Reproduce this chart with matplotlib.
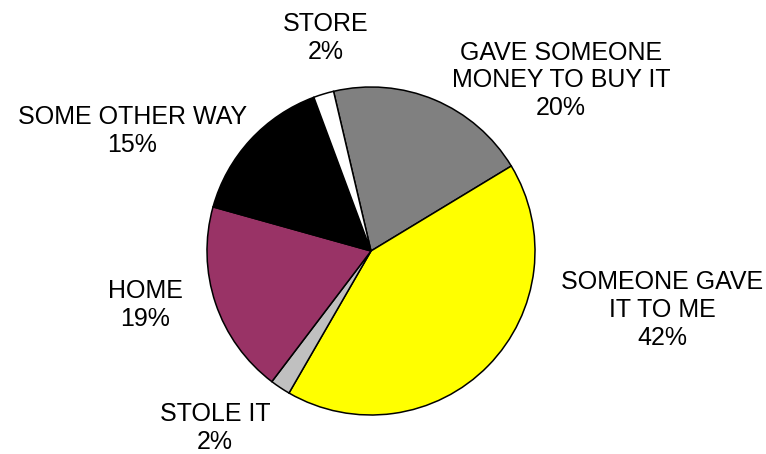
import matplotlib.pyplot as plt

# how the item was obtained, clockwise from the top
labels = ['GAVE SOMEONE\nMONEY TO BUY IT', 'SOMEONE GAVE\nIT TO ME', 'STOLE IT',
          'HOME', 'SOME OTHER WAY', 'STORE']
shares = [20, 42, 2, 19, 15, 2]
colors = ['#808080', '#FFFF00', '#C0C0C0', '#993366', '#000000', '#FFFFFF']

# label anchor points, in units of the pie radius
label_pos = [(1.159, 1.04), (1.774, -0.36), (-0.951, -1.08),
             (-1.378, -0.33), (-1.454, 0.73), (-0.274, 1.30)]

plt.rcParams['font.family'] = ['Liberation Sans', 'DejaVu Sans']

fig = plt.figure(figsize=(7.66, 4.54), dpi=100)
ax = fig.add_axes([207 / 766, 39 / 454, 328 / 766, 328 / 454])

ax.pie(shares, colors=colors, startangle=103.2, counterclock=False,
       wedgeprops=dict(edgecolor='black', linewidth=1.1))

for lab, val, (x, y) in zip(labels, shares, label_pos):
    ax.text(x, y, '%s\n%d%%' % (lab, val), ha='center', va='center',
            fontsize=18, linespacing=1.2, clip_on=False)

ax.set_xlim(-1, 1)
ax.set_ylim(-1, 1)
ax.set_aspect('equal')
ax.axis('off')

fig.savefig('out.png', dpi=100)
